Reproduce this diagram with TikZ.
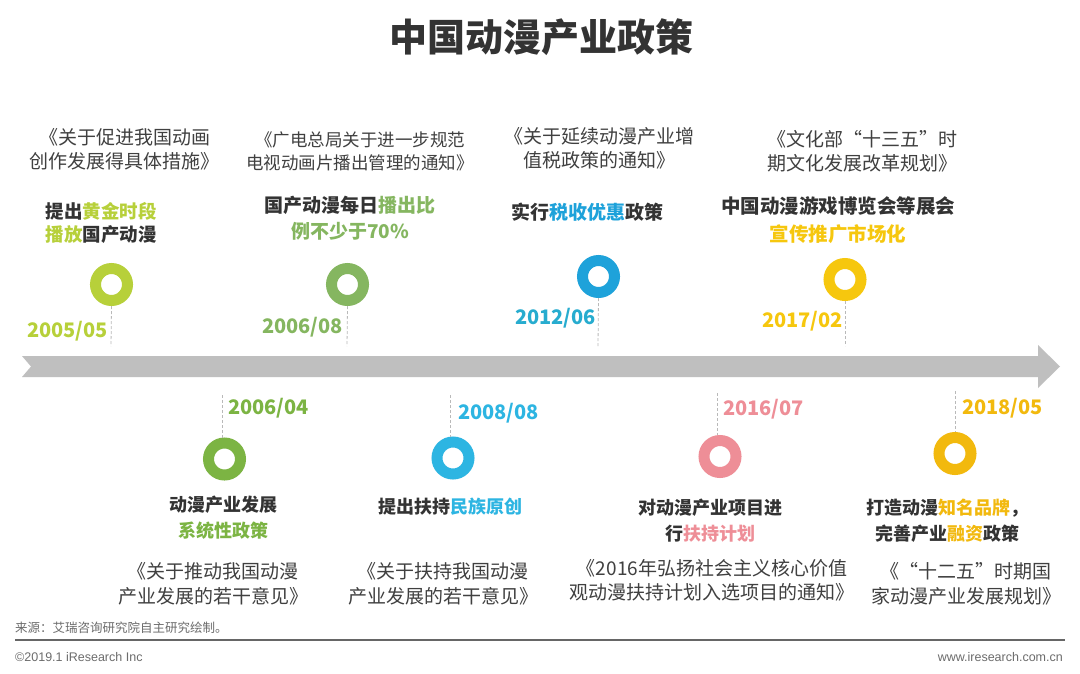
\documentclass[tikz,border=0pt]{standalone}
\usepackage{fontspec}
\setmainfont{Noto Sans CJK SC}
\newfontfamily\latinfont{Liberation Sans}
\definecolor{cA}{HTML}{B7D03A}
\definecolor{cB}{HTML}{85B660}
\definecolor{cC}{HTML}{1EA2DA}
\definecolor{cCd}{HTML}{27ACCF}
\definecolor{cD}{HTML}{F6C70E}
\definecolor{cE}{HTML}{7CB443}
\definecolor{cF}{HTML}{2DB5E2}
\definecolor{cG}{HTML}{EE8E97}
\definecolor{cH}{HTML}{F2B90E}
\definecolor{txt}{HTML}{333333}
\definecolor{doc}{HTML}{404040}
\definecolor{bar}{HTML}{BFBFBF}
\tikzset{
  ring/.style={circle, draw=#1, line width=11pt, minimum size=32pt, inner sep=0pt, fill=white},
  doctext/.style={text=doc, align=center, font=\fontsize{19}{24.5}\selectfont},
  stmt/.style={text=txt, align=center, font=\fontsize{19}{26}\selectfont\bfseries},
  stmtb/.style={text=txt, align=center, font=\fontsize{18}{25.5}\selectfont\bfseries},
  datetext/.style={text=#1, font=\fontsize{20}{24}\selectfont\bfseries, inner sep=0pt},
  tickline/.style={draw=gray!55, dash pattern=on 3pt off 2pt, line width=0.8pt},
}
\begin{document}
\begin{tikzpicture}[x=1pt,y=-1pt]
\useasboundingbox (0,0) rectangle (1080,673);
\fill[white] (0,0) rectangle (1080,673);

% title
\node[text=txt, font=\fontsize{38}{40}\selectfont\bfseries] (title) at (541,37) {中国动漫产业政策};

% timeline arrow
\fill[bar] (22,356) -- (1038,356) -- (1038,345) -- (1060,366.5) -- (1038,388) -- (1038,377) -- (22,377) -- (31,366.5) -- cycle;

% top row
\node[ring=cA] (r1) at (111.5,284.5) {};
\node[ring=cB] (r2) at (347.5,284.5) {};
\node[ring=cC] (r3) at (598.5,276.5) {};
\node[ring=cD] (r4) at (845,279.5) {};
\coordinate (t1) at (111,346);
\coordinate (t2) at (347,346);
\coordinate (t3) at (598,346);
\coordinate (t4) at (845,346);
\draw[tickline] (r1.south) -- (t1);
\draw[tickline] (r2.south) -- (t2);
\draw[tickline] (r3.south) -- (t3);
\draw[tickline] (r4.south) -- (t4);
\node[datetext=cA, anchor=east] (d1) at (108,331) {2005/05};
\node[datetext=cB, anchor=east] (d2) at (343,327) {2006/08};
\node[datetext=cCd, anchor=east] (d3) at (596,318) {2012/06};
\node[datetext=cD, anchor=east] (d4) at (843,321) {2017/02};

% bottom row
\node[ring=cE] (r5) at (224.5,459) {};
\node[ring=cF] (r6) at (453,458) {};
\node[ring=cG] (r7) at (720,456.5) {};
\node[ring=cH] (r8) at (955,453.5) {};
\coordinate (b5) at (222,395);
\coordinate (b6) at (450,395);
\coordinate (b7) at (717,393);
\coordinate (b8) at (955,391);
\draw[tickline] (b5) -- (r5.north -| b5);
\draw[tickline] (b6) -- (r6.north -| b6);
\draw[tickline] (b7) -- (r7.north -| b7);
\draw[tickline] (b8) -- (r8.north);
\node[datetext=cE, anchor=west] (d5) at (228,408) {2006/04};
\node[datetext=cF, anchor=west] (d6) at (458,413) {2008/08};
\node[datetext=cG, anchor=west] (d7) at (723,409) {2016/07};
\node[datetext=cH, anchor=west] (d8) at (962,408) {2018/05};

% top statements
\node[stmt, font=\fontsize{18.5}{23.5}\selectfont\bfseries] (s1) at (101,223) {提出\textcolor{cA}{黄金时段}\\\textcolor{cA}{播放}国产动漫};
\node[stmt] (s2) at (350,218.5) {国产动漫每日\textcolor{cB}{播出比}\\\textcolor{cB}{例不少于70\%}};
\node[stmt] (s3) at (587,212) {实行\textcolor{cC}{税收优惠}政策};
\node[stmt, font=\fontsize{19.5}{27.5}\selectfont\bfseries] (s4) at (838,220) {中国动漫游戏博览会等展会\\\textcolor{cD}{宣传推广市场化}};

% bottom statements
\node[stmtb] (s5) at (223,517.5) {动漫产业发展\\\textcolor{cE}{系统性政策}};
\node[stmtb] (s6) at (450,507) {提出扶持\textcolor{cF}{民族原创}};
\node[stmtb] (s7) at (710,520.5) {对动漫产业项目进\\行\textcolor{cG}{扶持计划}};
\node[stmtb] (s8) at (947,520.5) {打造动漫\textcolor{cH}{知名品牌}，\\完善产业\textcolor{cH}{融资}政策};

% documents
\node[doctext] (p1) at (125,149.5) {《关于促进我国动画\\创作发展得具体措施》};
\node[doctext, font=\fontsize{17.5}{23}\selectfont] (p2) at (360,151.5) {《广电总局关于进一步规范\\电视动画片播出管理的通知》};
\node[doctext] (p3) at (599,148.5) {《关于延续动漫产业增\\值税政策的通知》};
\node[doctext] (p4) at (862,151.5) {《文化部“十三五”时\\期文化发展改革规划》};
\node[doctext] (p5) at (213,584) {《关于推动我国动漫\\产业发展的若干意见》};
\node[doctext] (p6) at (443,584) {《关于扶持我国动漫\\产业发展的若干意见》};
\node[doctext] (p7) at (712,580.5) {《2016年弘扬社会主义核心价值\\观动漫扶持计划入选项目的通知》};
\node[doctext] (p8) at (966,584) {《“十二五”时期国\\家动漫产业发展规划》};

% footer
\node[anchor=west, text=gray!85!black, font=\fontsize{12.5}{14}\selectfont, inner sep=0pt] (src) at (15,628) {来源：艾瑞咨询研究院自主研究绘制。};
\coordinate (fl) at (15,640);
\coordinate (fr) at (1065,640);
\draw[draw=gray!80!black, line width=1.2pt] (fl) -- (fr);
\node[anchor=west, text=gray!85!black, font=\latinfont\fontsize{12.5}{14}\selectfont, inner sep=0pt] (copy) at (15,657) {©2019.1 iResearch Inc};
\node[anchor=east, text=gray!85!black, font=\latinfont\fontsize{12.5}{14}\selectfont, inner sep=0pt] (web) at (1063,657) {www.iresearch.com.cn};
\end{tikzpicture}
\end{document}
